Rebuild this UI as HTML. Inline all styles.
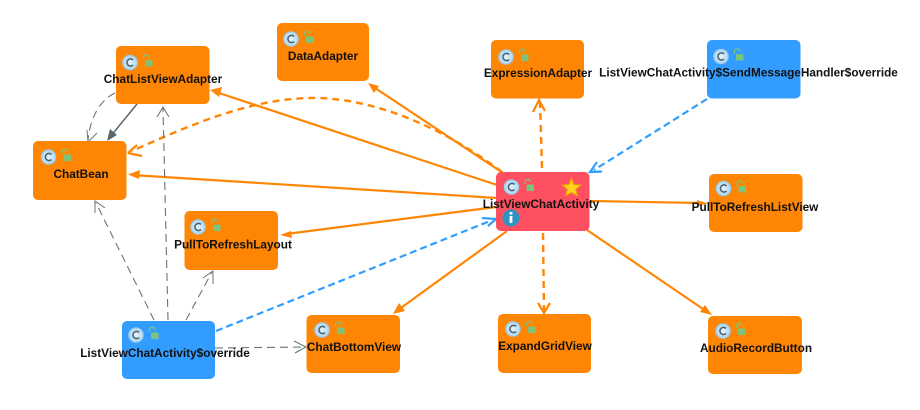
<!DOCTYPE html>
<html>
<head>
<meta charset="utf-8">
<style>
html,body{margin:0;padding:0;background:#fff;width:920px;height:410px;overflow:hidden}
svg{display:block}
text{font-family:"Liberation Sans",sans-serif;font-size:11.8px;font-weight:bold;fill:#111;text-anchor:middle}
.o{stroke:#ff8605;stroke-width:2.2;fill:none}
.od{stroke:#ff8605;stroke-width:2.4;fill:none;stroke-dasharray:7 5}
.ov{stroke:#ff8605;stroke-width:2.2;fill:none}
.b{stroke:#2f9fff;stroke-width:2.2;fill:none;stroke-dasharray:7 4}
.bv{stroke:#2f9fff;stroke-width:2.2;fill:none}
.g{stroke:#66757a;stroke-width:1.1;fill:none;stroke-dasharray:8 5}
.gv{stroke:#66757a;stroke-width:1;fill:none}
.gs{stroke:#56666a;stroke-width:1.5;fill:none}
.oh{fill:#ff8605}
</style>
</head>
<body>
<svg width="920" height="410" viewBox="0 0 920 410" xmlns="http://www.w3.org/2000/svg">
<defs>
<radialGradient id="cg" cx="50%" cy="50%" r="50%"><stop offset="0" stop-color="#e6f2fa"/><stop offset="0.75" stop-color="#bcdcf2"/><stop offset="1" stop-color="#8cc4ea"/></radialGradient>
<g id="ic">
<circle cx="0" cy="0" r="7.8" fill="url(#cg)"/>
<path d="M3 -2.6A3.6 3.6 0 1 0 3 2.6" fill="none" stroke="#44606e" stroke-width="1.5"/>
<path d="M13.5 -3V-5.5A2.8 2.8 0 0 1 19 -5" fill="none" stroke="#7cc47a" stroke-width="1.3"/>
<rect x="15" y="-2.5" width="7.5" height="6.5" rx="1" fill="#7cc47a"/>
</g>
</defs>

<!-- connectors -->
<path class="o" d="M497 185L216 92"/>
<path class="oh" d="M210 90L222 87L219 97Z"/>
<path class="o" d="M497 198L132 175"/>
<path class="oh" d="M128 174.500L140 170L139 179Z"/>
<path class="od" d="M502 172C440 125 370 97 310 98C250 99 190 125 132 151"/>
<path class="ov" d="M128 153L137 145M128 153L142 156"/>
<path class="o" d="M503 173L372 86"/>
<path class="oh" d="M368 83L379 86L374 93Z"/>
<path class="od" d="M542 168L540 101"/>
<path class="ov" d="M533 112L539 100L545 111"/>
<path class="b" d="M707 99L594 170"/>
<path class="bv" d="M602 171.500L590 172L597 162"/>
<path class="o" d="M590 201L700 203"/>
<path class="oh" d="M708 203.500L697 200L697 206Z"/>
<path class="o" d="M496 207L286 234"/>
<path class="oh" d="M280 235L291 231L292 238Z"/>
<path class="b" d="M216 331L490 221"/>
<path class="bv" d="M482 218L496 219L488 226"/>
<path class="o" d="M507 231L398 310"/>
<path class="oh" d="M393 314L399 303L405 311Z"/>
<path class="od" d="M543 233L544 311"/>
<path class="ov" d="M538 303L544 313L550 303"/>
<path class="o" d="M587 230L706 311"/>
<path class="oh" d="M712 315L700 312L705 305Z"/>

<path class="gs" d="M137 104L110 137"/>
<path d="M107 141L110 129L117 135Z" fill="#56666a"/>
<path class="g" d="M115 93C100 100 90 118 88 140"/>
<path class="gv" d="M87 130L88 142L97 133"/>
<path class="g" d="M168 320L163 108"/>
<path class="gv" d="M157 117L163 107L169 117"/>
<path class="g" d="M154 320L96 203"/>
<path class="gv" d="M95 213L95 201L105 208"/>
<path class="g" d="M186 320L212 272"/>
<path class="gv" d="M203 278L213 271L213 284"/>
<path class="g" d="M215 348L304 347"/>
<path class="gv" d="M294 341L306 347L295 353"/>

<!-- nodes -->
<rect x="116" y="46" width="93.500" height="58" rx="5" fill="#ff8605"/>
<rect x="33" y="141" width="93.500" height="59" rx="5" fill="#ff8605"/>
<rect x="277" y="23" width="92" height="58" rx="5" fill="#ff8605"/>
<rect x="491" y="40" width="93" height="58.500" rx="5" fill="#ff8605"/>
<rect x="707" y="40" width="93.500" height="58.500" rx="5" fill="#329dff"/>
<rect x="496" y="172" width="93.500" height="59" rx="5" fill="#fe5060"/>
<rect x="709" y="174" width="93.500" height="58" rx="5" fill="#ff8605"/>
<rect x="184.500" y="211" width="93.500" height="59" rx="5" fill="#ff8605"/>
<rect x="122" y="321" width="93" height="58" rx="5" fill="#329dff"/>
<rect x="306.500" y="315" width="93.500" height="58" rx="5" fill="#ff8605"/>
<rect x="498" y="314" width="93" height="59" rx="5" fill="#ff8605"/>
<rect x="708" y="316" width="94" height="58" rx="5" fill="#ff8605"/>

<!-- icons -->
<use href="#ic" x="130" y="62.500"/>
<use href="#ic" x="48.500" y="157"/>
<use href="#ic" x="291" y="39"/>
<use href="#ic" x="506" y="57"/>
<use href="#ic" x="721" y="56.500"/>
<use href="#ic" x="511.500" y="187"/>
<use href="#ic" x="723.500" y="188.500"/>
<use href="#ic" x="198" y="227"/>
<use href="#ic" x="136" y="335"/>
<use href="#ic" x="322" y="330"/>
<use href="#ic" x="513" y="329"/>
<use href="#ic" x="723" y="331"/>

<path d="M571.500 178L574 184.500L581 185L575.700 189.300L577.500 196L571.500 192.400L565.500 196L567.300 189.300L562 185L569 184.500Z" fill="#ffd21f" stroke="#f59a00" stroke-width="1"/>
<circle cx="511" cy="218" r="8.500" fill="#2d93c4"/>
<rect x="509.600" y="216" width="2.800" height="7" fill="#fff"/>
<rect x="509.600" y="212" width="2.800" height="2.600" fill="#fff"/>

<!-- labels -->
<text x="163" y="83">ChatListViewAdapter</text>
<text x="81" y="178">ChatBean</text>
<text x="323" y="60">DataAdapter</text>
<text x="538" y="77">ExpressionAdapter</text>
<text x="748.500" y="76.500">ListViewChatActivity$SendMessageHandler$override</text>
<text x="541" y="208">ListViewChatActivity</text>
<text x="755" y="211">PullToRefreshListView</text>
<text x="233" y="248.500">PullToRefreshLayout</text>
<text x="165" y="357">ListViewChatActivity$override</text>
<text x="354" y="351">ChatBottomView</text>
<text x="545" y="350">ExpandGridView</text>
<text x="756" y="352">AudioRecordButton</text>
</svg>
</body>
</html>
